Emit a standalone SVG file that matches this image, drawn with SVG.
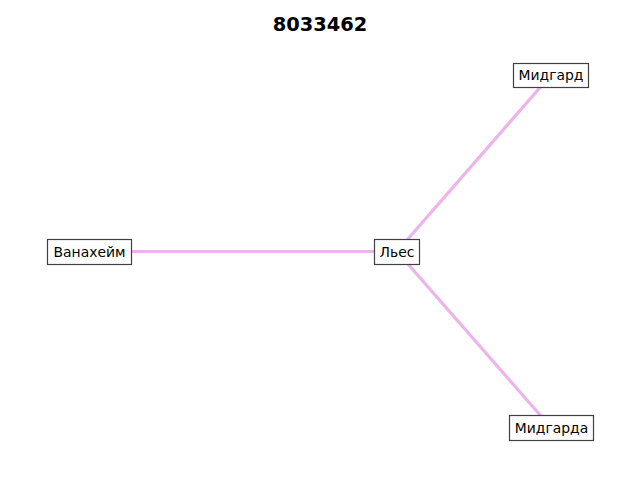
<svg xmlns="http://www.w3.org/2000/svg" width="640" height="480" viewBox="0 0 640 480">
<style>
.edge{stroke:#ebb4eb;stroke-width:3.2;fill:none}
.box{fill:#fff;stroke:#404040;stroke-width:1.2}
.lbl{font-family:"DejaVu Sans",sans-serif;font-size:13.9px;fill:#000;text-anchor:middle;dominant-baseline:central}
.title{font-family:"DejaVu Sans",sans-serif;font-size:19.4px;font-weight:bold;text-anchor:middle}
</style>
<rect width="640" height="480" fill="#fff"/>
<text class="title" x="320" y="30.5">8033462</text>
<g id="edges">
<line class="edge" x1="89" y1="251.5" x2="397" y2="251.5"/>
<line class="edge" x1="397" y1="251.5" x2="551" y2="75"/>
<line class="edge" x1="397" y1="251.5" x2="551" y2="427.5"/>
</g>
<g id="n-vanaheim"><rect class="box" x="47.5" y="239.5" width="84" height="25"/><text class="lbl" x="89.5" y="252">Ванахейм</text></g>
<g id="n-lyes"><rect class="box" x="374.5" y="239.5" width="45" height="25"/><text class="lbl" x="397" y="252">Льес</text></g>
<g id="n-midgard"><rect class="box" x="513.5" y="63.5" width="75" height="24"/><text class="lbl" x="551" y="75">Мидгард</text></g>
<g id="n-midgarda"><rect class="box" x="509.5" y="415.5" width="84" height="25"/><text class="lbl" x="551.5" y="428">Мидгарда</text></g>
</svg>
